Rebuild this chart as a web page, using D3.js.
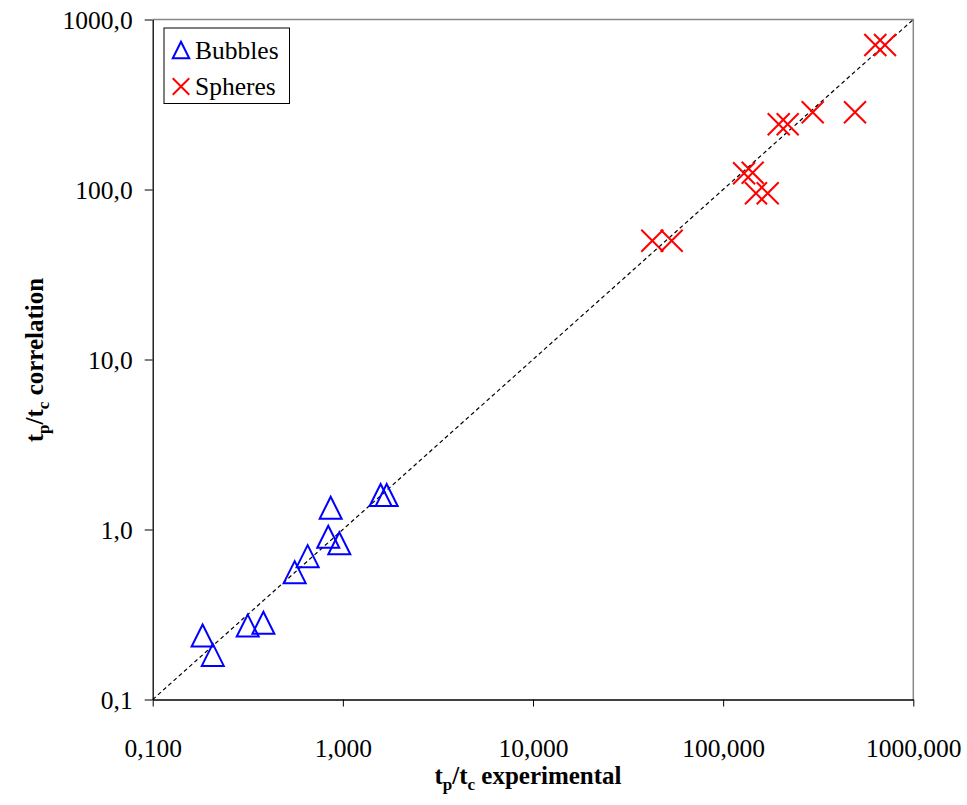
<!DOCTYPE html>
<html><head><meta charset="utf-8">
<script src="https://cdn.jsdelivr.net/npm/d3@7"></script>
<style>body{margin:0;background:#fff} text{font-family:"Liberation Serif","Times New Roman",serif}</style>
</head><body>
<svg id="c" width="967" height="805"></svg>
<script>
const bubblesX = [0.183, 0.207, 0.316, 0.382, 0.558, 0.653, 0.838, 0.958, 0.863, 1.58, 1.70];
const bubblesY = [0.238, 0.183, 0.272, 0.283, 0.561, 0.697, 0.906, 0.830, 1.342, 1.596, 1.596];
const spheresX = [42.4, 53.6, 128.8, 143, 148.8, 171.5, 196, 218.5, 295.8, 493.6, 631.4, 709.9];
const spheresY = [50.0, 50.0, 124.5, 125.6, 95.0, 95.0, 241.9, 241.9, 284.4, 284.4, 708, 708];
const xTicks = [0.1, 1, 10, 100, 1000];
const xTickLabels = ["0,100", "1,000", "10,000", "100,000", "1000,000"];
const yTicks = [0.1, 1, 10, 100, 1000];
const yTickLabels = ["0,1", "1,0", "10,0", "100,0", "1000,0"];
const seriesNames = ["Bubbles", "Spheres"];

const svg = d3.select("#c");
const L = 152.7, R = 913.3, T = 19.5, B = 699.5;
const x = d3.scaleLog().domain([0.1, 1000]).range([L, R]);
const y = d3.scaleLog().domain([0.1, 1000]).range([B, T]);
const font = '"Liberation Serif", "Times New Roman", serif';

// frame top/right
svg.append("path").attr("d", `M${L},${T}H${R}V${B}`).attr("fill","none").attr("stroke","#888").attr("stroke-width",1.5);

// axes
const xa = d3.axisBottom(x).tickValues(xTicks).tickFormat((d,i)=>xTickLabels[i]).tickSize(7).tickSizeOuter(0);
const gx = svg.append("g").attr("transform", `translate(0,${B})`).call(xa).attr("font-family", null);
gx.select(".domain").attr("stroke","#000").attr("stroke-width",1.3);
gx.selectAll(".tick line").attr("stroke","#000").attr("stroke-width",1);
gx.selectAll(".tick text").style("font-family", font).attr("font-size", 25.5).attr("fill","#000").attr("dy", null).attr("y", 57);

const ya = d3.axisLeft(y).tickValues(yTicks).tickFormat((d,i)=>yTickLabels[i]).tickSize(8).tickSizeOuter(0);
const gy = svg.append("g").attr("transform", `translate(${L},0)`).call(ya).attr("font-family", null);
gy.select(".domain").attr("stroke","#000").attr("stroke-width",1.3);
gy.selectAll(".tick line").attr("stroke","#000").attr("stroke-width",1);
gy.selectAll(".tick text").style("font-family", font).attr("font-size", 25.5).attr("fill","#000").attr("dy", null).attr("y", 8.5).attr("x", -20);

// diagonal y = x
svg.append("line").attr("x1", x(0.1)).attr("y1", y(0.1)).attr("x2", x(1000)).attr("y2", y(1000))
  .attr("stroke","#000").attr("stroke-width",1.2).attr("stroke-dasharray","4,3");

// markers
function tri(g, cx, cy, s, sw) {
  const h = s;
  g.append("path").attr("d", `M${cx},${cy-h/2}L${cx+s/2},${cy+h/2}L${cx-s/2},${cy+h/2}Z`)
    .attr("fill","none").attr("stroke","#0000ff").attr("stroke-width",sw);
}
function cross(g, cx, cy, s, sw) {
  const r = s/2;
  g.append("path").attr("d", `M${cx-r},${cy-r}L${cx+r},${cy+r}M${cx-r},${cy+r}L${cx+r},${cy-r}`)
    .attr("fill","none").attr("stroke","#ff0000").attr("stroke-width",sw);
}
const gm = svg.append("g");
bubblesX.forEach((v,i)=>tri(gm, x(v), y(bubblesY[i]), 22, 2));
spheresX.forEach((v,i)=>cross(gm, x(v), y(spheresY[i]), 22, 2));

// legend
const lg = svg.append("g");
lg.append("rect").attr("x",164).attr("y",28).attr("width",125.5).attr("height",75.5)
  .attr("fill","#fff").attr("stroke","#000").attr("stroke-width",1);
tri(lg, 181, 50, 16.5, 2);
cross(lg, 181, 86.5, 16.5, 2);
lg.append("text").attr("x",195).attr("y",58.5).style("font-family",font).attr("font-size",25.5).text(seriesNames[0]);
lg.append("text").attr("x",195).attr("y",95).style("font-family",font).attr("font-size",25.5).text(seriesNames[1]);

// axis titles
function title(t, main) {
  t.style("font-family", font).attr("font-size", 25).attr("font-weight","bold").attr("text-anchor","middle");
  t.append("tspan").text("t");
  t.append("tspan").attr("font-size",17).attr("dy",6).text("p");
  t.append("tspan").attr("dy",-6).text("/t");
  t.append("tspan").attr("font-size",17).attr("dy",6).text("c");
  t.append("tspan").attr("dy",-6).text(" " + main);
}
title(svg.append("text").attr("x", 528).attr("y", 784), "experimental");
title(svg.append("text").attr("transform","translate(43,360) rotate(-90)"), "correlation");
</script>
</body></html>
